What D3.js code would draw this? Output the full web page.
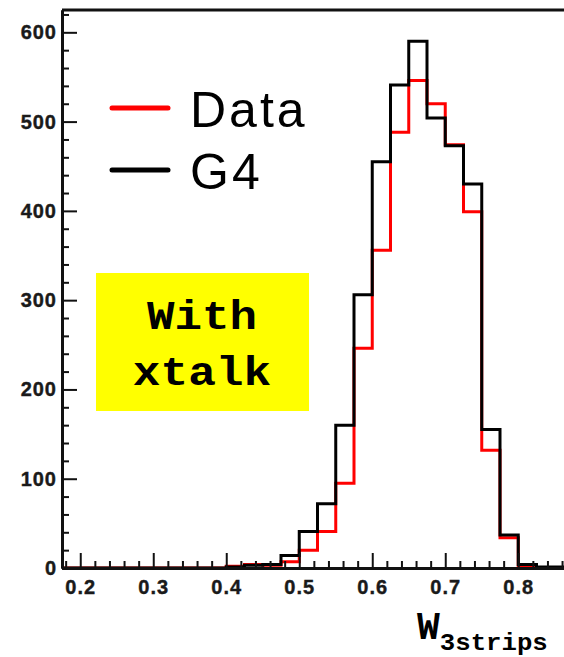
<!DOCTYPE html>
<html>
<head>
<meta charset="utf-8">
<script src="https://cdn.jsdelivr.net/npm/d3@7"></script>
<style>
  html, body { margin: 0; padding: 0; background: #fff; }
  svg { display: block; }
</style>
</head>
<body>
<div id="chart"></div>
<script>
// bin lower edges (bin width 0.025)
const binStarts = [0.175, 0.2, 0.225, 0.25, 0.275, 0.3, 0.325, 0.35, 0.375, 0.4,
                   0.425, 0.45, 0.475, 0.5, 0.525, 0.55, 0.575, 0.6, 0.625, 0.65,
                   0.675, 0.7, 0.725, 0.75, 0.775, 0.8, 0.825, 0.85];
const binWidth = 0.025;
// red: Data, black: G4
const dataCounts = [0, 0, 0, 0, 0, 0, 0, 0, 0, 2,
                    4, 3, 7, 20, 41, 95, 246, 356, 488, 546,
                    520, 474, 399, 132, 34, 1, 0, 0];
const g4Counts = [0, 0, 0, 0, 0, 0, 0, 0, 0, 1,
                  3, 4, 14, 41, 72, 160, 306, 455, 541, 590,
                  504, 473, 430, 155, 37, 4, 1, 1];
const xMajorTicks = [0.2, 0.3, 0.4, 0.5, 0.6, 0.7, 0.8];
const xMinorTicks = [0.18, 0.22, 0.24, 0.26, 0.28, 0.32, 0.34, 0.36, 0.38, 0.42, 0.44, 0.46, 0.48,
                     0.52, 0.54, 0.56, 0.58, 0.62, 0.64, 0.66, 0.68, 0.72, 0.74, 0.76, 0.78, 0.82, 0.84, 0.86];
const yMajorTicks = [0, 100, 200, 300, 400, 500, 600];
const yMinorTicks = [20, 40, 60, 80, 120, 140, 160, 180, 220, 240, 260, 280, 320, 340, 360, 380,
                     420, 440, 460, 480, 520, 540, 560, 580, 620];
const legendItems = [{ label: "Data", color: "#ff0000" }, { label: "G4", color: "#000000" }];

const width = 564, height = 657;
const plot = { left: 62, right: 573, top: 10, bottom: 568 };

const svg = d3.select("#chart").append("svg")
    .attr("width", width)
    .attr("height", height);

const x = d3.scaleLinear().domain([0.175, 0.875]).range([plot.left, plot.right]);
const y = d3.scaleLinear().domain([0, 625]).range([plot.bottom, plot.top]);

// histogram outlines
function histPath(counts) {
  let p = d3.path();
  p.moveTo(x(binStarts[0]), y(0));
  counts.forEach((c, i) => {
    p.lineTo(x(binStarts[i]), y(c));
    p.lineTo(x(binStarts[i] + binWidth), y(c));
  });
  p.lineTo(x(binStarts[binStarts.length - 1] + binWidth), y(0));
  return p.toString();
}

svg.append("path")
    .attr("d", histPath(dataCounts))
    .attr("fill", "none")
    .attr("stroke", "#ff0000")
    .attr("stroke-width", 3);

svg.append("path")
    .attr("d", histPath(g4Counts))
    .attr("fill", "none")
    .attr("stroke", "#000")
    .attr("stroke-width", 3);

// axes (ROOT style: ticks pointing inward)
const yAxis = svg.append("g")
    .attr("transform", `translate(${plot.left},0)`)
    .call(d3.axisLeft(y).tickValues(yMajorTicks).tickSize(-15).tickSizeOuter(0).tickPadding(5));
svg.append("g")
    .attr("transform", `translate(${plot.left},0)`)
    .call(d3.axisLeft(y).tickValues(yMinorTicks).tickSize(-7).tickSizeOuter(0).tickFormat(""));

const xAxis = svg.append("g")
    .attr("transform", `translate(0,${plot.bottom})`)
    .call(d3.axisBottom(x).tickValues(xMajorTicks).tickSize(-15).tickSizeOuter(0).tickPadding(12)
      .tickFormat(d3.format(".1f")));
svg.append("g")
    .attr("transform", `translate(0,${plot.bottom})`)
    .call(d3.axisBottom(x).tickValues(xMinorTicks).tickSize(-7).tickSizeOuter(0).tickFormat(""));

svg.selectAll(".domain").attr("stroke", "#111").attr("stroke-width", 3);
svg.selectAll(".tick line").attr("stroke", "#111").attr("stroke-width", 2);
svg.selectAll(".tick text")
    .attr("font-family", "Liberation Sans, Arial, sans-serif")
    .attr("font-weight", "bold")
    .attr("font-size", 20)
    .attr("letter-spacing", 1)
    .attr("fill", "#1a1a1a")
    .attr("stroke", "#1a1a1a")
    .attr("stroke-width", 0.4);

// top frame line
svg.append("line")
    .attr("x1", plot.left).attr("x2", plot.right)
    .attr("y1", plot.top).attr("y2", plot.top)
    .attr("stroke", "#111").attr("stroke-width", 3);

// legend
const legend = svg.append("g").attr("transform", "translate(112,108)");
legendItems.forEach((d, i) => {
  const g = legend.append("g").attr("transform", `translate(0,${i * 62})`);
  g.append("line")
      .attr("x1", 0).attr("x2", 56)
      .attr("stroke", d.color).attr("stroke-width", 5).attr("stroke-linecap", "round");
  g.append("text")
      .attr("x", 78).attr("y", 19)
      .attr("font-family", "Liberation Sans, Arial, sans-serif")
      .attr("font-size", 50)
      .attr("letter-spacing", 3)
      .attr("fill", "#000")
      .text(d.label);
});

// yellow label box
svg.append("rect")
    .attr("x", 96).attr("y", 273)
    .attr("width", 213).attr("height", 138)
    .attr("fill", "#ffff00");
[["With", 329], ["xtalk", 385]].forEach(([t, by]) => {
  svg.append("text")
      .attr("x", 202).attr("y", by)
      .attr("text-anchor", "middle")
      .attr("font-family", "Liberation Mono, Courier New, monospace")
      .attr("font-weight", "bold")
      .attr("font-size", 40)
      .attr("textLength", t.length * 28.5 - 4)
      .attr("lengthAdjust", "spacingAndGlyphs")
      .text(t);
});

// x axis title
const title = svg.append("text")
    .attr("x", 417).attr("y", 639)
    .attr("font-family", "Liberation Mono, Courier New, monospace")
    .attr("font-weight", "bold")
    .attr("fill", "#000");
title.append("tspan").attr("font-size", 38).text("W");
title.append("tspan").attr("font-size", 24).attr("dy", 11)
    .attr("textLength", 108).attr("lengthAdjust", "spacingAndGlyphs")
    .text("3strips");
</script>
</body>
</html>
